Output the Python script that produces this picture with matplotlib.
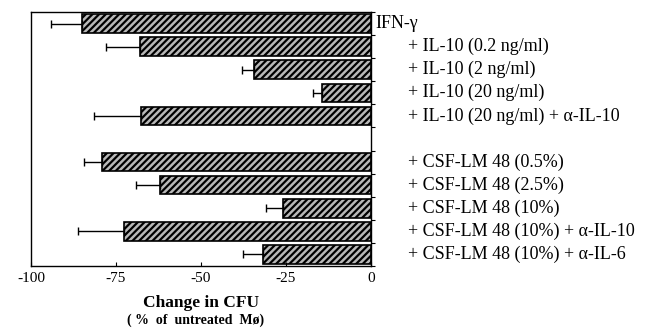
import matplotlib
matplotlib.use("Agg")
import matplotlib.pyplot as plt
import numpy as np
import matplotlib.transforms as mtransforms

labels = ["IFN-γ", "+ IL-10 (0.2 ng/ml)", "+ IL-10 (2 ng/ml)", "+ IL-10 (20 ng/ml)",
          "+ IL-10 (20 ng/ml) + α-IL-10",
          "+ CSF-LM 48 (0.5%)", "+ CSF-LM 48 (2.5%)", "+ CSF-LM 48 (10%)",
          "+ CSF-LM 48 (10%) + α-IL-10", "+ CSF-LM 48 (10%) + α-IL-6"]
values = [-85, -68, -34.3, -14.5, -67.7, -79, -62.2, -26, -72.6, -31.7]
errors = [9, 10, 3.5, 2.6, 13.8, 5.4, 6.9, 4.9, 13.7, 6.0]
positions = [0, 1, 2, 3, 4, 6, 7, 8, 9, 10]
xticks = [-100, -75, -50, -25, 0]

plt.rcParams['font.family'] = ['Liberation Serif', 'DejaVu Serif']
plt.rcParams['hatch.linewidth'] = 1.6

fig = plt.figure(figsize=(6.45, 3.28), dpi=100)
ax = fig.add_axes([31/645, 1-266/328, 340/645, 254/328])

err = np.array([errors, np.zeros(len(errors))])
ax.barh(positions, values, height=0.8, color='#b8b8b8', edgecolor='black',
        hatch='/////', linewidth=1.2, xerr=err,
        error_kw=dict(ecolor='black', elinewidth=1.0, capsize=3, capthick=1.0))

ax.set_xlim(-100, 0)
ax.set_ylim(10.5, -0.5)
ax.set_xticks(xticks)
ax.set_xticklabels([str(t) for t in xticks], fontsize=11)
ax.tick_params(axis='x', direction='in', length=3, pad=4)
ax.yaxis.set_ticks_position('right')
ax.set_yticks([p + 0.5 for p in range(-1, 11)])
ax.set_yticklabels([])
ax.tick_params(axis='y', direction='out', length=3, right=True, left=False)
for s in ax.spines.values():
    s.set_linewidth(1.0)

trans = mtransforms.blended_transform_factory(ax.transAxes, ax.transData)
for i, (p, lab) in enumerate(zip(positions, labels)):
    x = 1.012 if i == 0 else 1.109
    ax.text(x, p, lab, transform=trans, ha='left', va='center', fontsize=13)

fig.text(201/645, 1-303/328, "Change in CFU", ha='center', va='center',
         fontsize=12.5, fontweight='bold')
fig.text(196/645, 1-320/328, "( %  of  untreated  Mø)", ha='center', va='center',
         fontsize=10, fontweight='bold')

fig.savefig("out.png", dpi=100)
